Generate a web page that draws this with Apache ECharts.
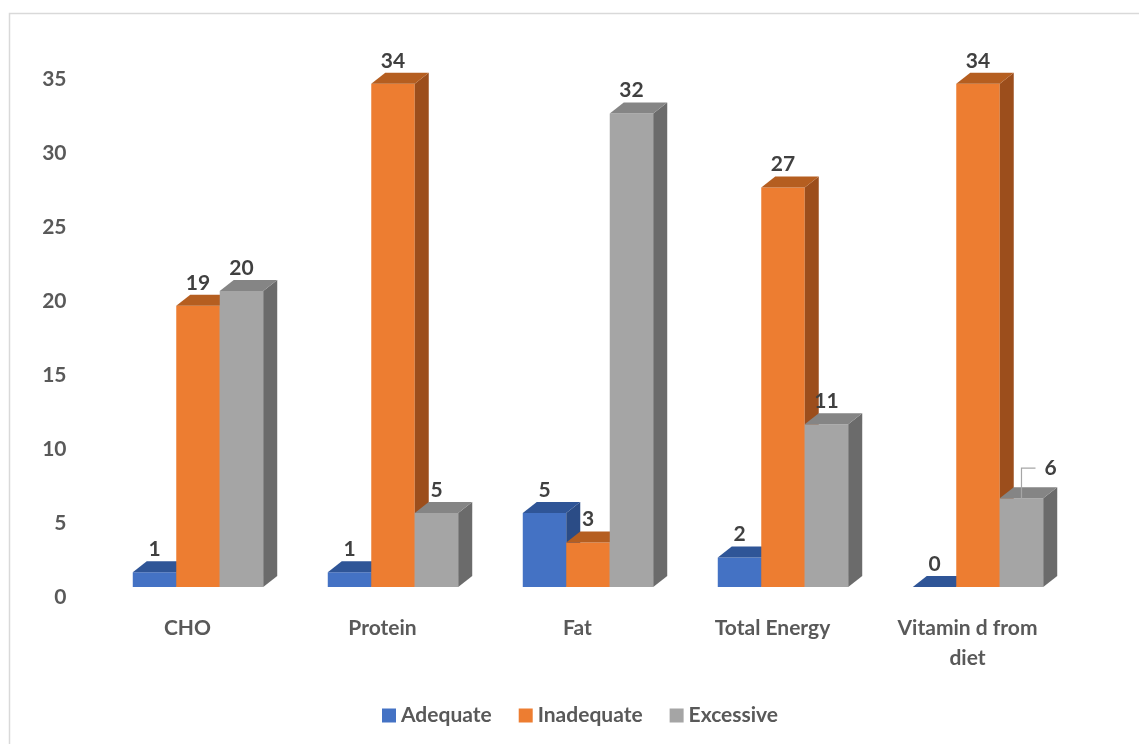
<!DOCTYPE html>
<html>
<head>
<meta charset="utf-8">
<script src="https://cdn.jsdelivr.net/npm/echarts@6/dist/echarts.min.js"></script>
<style>
  html, body { margin: 0; padding: 0; background: #ffffff; }
  #chart { width: 1139px; height: 744px; }
</style>
</head>
<body>
<div id="chart"></div>
<script>
// Nutrient intake status counts
const categories = ['CHO', 'Protein', 'Fat', 'Total Energy', 'Vitamin d from\ndiet'];
const adequate   = [1, 1, 5, 2, 0];
const inadequate = [19, 34, 3, 27, 34];
const excessive  = [20, 5, 32, 11, 6];
const yTicks = [0, 5, 10, 15, 20, 25, 30, 35];

const seriesNames = ['Adequate', 'Inadequate', 'Excessive'];
const seriesValues = [adequate, inadequate, excessive];
// front, top, side face colours of each 3-D column
const faces = [
  { front: '#4472C4', top: '#2F5597', side: '#2B4C86' },
  { front: '#ED7D31', top: '#B55E20', side: '#9C4E1C' },
  { front: '#A5A5A5', top: '#858585', side: '#6B6B6B' }
];

const FONT = 'bold 21px Lato, "Open Sans", sans-serif';
const TEXT = '#404040';
const DEPTH_X = 14, DEPTH_Y = -11;   // oblique depth of each column
const BAR_FRAC = 0.223;              // column width as a share of the category band

function makeRender(s) {
  return function (params, api) {
    const idx = api.value(0);
    const val = api.value(1);
    const base = api.coord([idx, 0]);
    const top = api.coord([idx, val]);
    const w = api.size([1, 0])[0] * BAR_FRAC;
    const x0 = base[0] - 1.5 * w + s * w;
    const yT = top[1], yB = base[1];
    const f = faces[s];
    const children = [];
    if (yB - yT > 0.5) {
      children.push({ type: 'rect', shape: { x: x0, y: yT, width: w, height: yB - yT },
        style: { fill: f.front } });
      children.push({ type: 'polygon', shape: { points: [
        [x0 + w, yT], [x0 + w, yB], [x0 + w + DEPTH_X, yB + DEPTH_Y], [x0 + w + DEPTH_X, yT + DEPTH_Y]] },
        style: { fill: f.side } });
    }
    children.push({ type: 'polygon', shape: { points: [
      [x0, yT], [x0 + w, yT], [x0 + w + DEPTH_X, yT + DEPTH_Y], [x0 + DEPTH_X, yT + DEPTH_Y]] },
      style: { fill: f.top } });

    let lx = x0 + w / 2, ly = yT + DEPTH_Y - 12;
    // the last Excessive label sits to the right with a leader line
    if (s === 2 && idx === categories.length - 1) {
      const cx = x0 + w / 2;
      lx = cx + 29; ly = yT - 30;
      children.push({ type: 'polyline', shape: { points: [[cx, yT], [cx, ly], [cx + 14, ly]] },
        style: { stroke: '#A6A6A6', lineWidth: 1.2, fill: null }, z2: 20 });
    }
    children.push({ type: 'text', z2: 30, style: {
      text: String(val), x: lx, y: ly, align: 'center', verticalAlign: 'middle',
      font: FONT, fill: TEXT } });
    return { type: 'group', children: children };
  };
}

const chart = echarts.init(document.getElementById('chart'), null, { renderer: 'canvas' });

chart.setOption({
  animation: false,
  backgroundColor: '#ffffff',
  graphic: [{
    type: 'rect', left: 7, top: 11, z: -10,
    shape: { width: 1200, height: 800 },
    style: { fill: 'none', stroke: '#D9D9D9', lineWidth: 1.5 }
  }],
  grid: { left: 100.5, right: 63.5, top: 69, bottom: 157 },
  legend: {
    left: 377, top: 700,
    icon: 'rect', itemWidth: 14, itemHeight: 14, itemGap: 27,
    textStyle: { fontFamily: 'Lato, "Open Sans", sans-serif', fontWeight: 'bold', fontSize: 21, color: '#595959' },
    data: seriesNames
  },
  xAxis: {
    type: 'category',
    data: categories,
    axisLine: { show: false },
    axisTick: { show: false },
    axisLabel: {
      interval: 0, margin: 26, lineHeight: 30,
      padding: [0, 21, 0, 0],
      fontFamily: 'Lato, "Open Sans", sans-serif', fontWeight: 'bold', fontSize: 21, color: '#595959'
    }
  },
  yAxis: {
    type: 'value',
    min: yTicks[0], max: yTicks[yTicks.length - 1], interval: 5,
    axisLine: { show: false },
    axisTick: { show: false },
    splitLine: { show: false },
    axisLabel: {
      margin: 34, verticalAlign: 'top', lineHeight: 21,
      fontFamily: 'Lato, "Open Sans", sans-serif', fontWeight: 'bold', fontSize: 21, color: '#595959'
    }
  },
  series: seriesNames.map((name, s) => ({
    name: name,
    type: 'custom',
    renderItem: makeRender(s),
    itemStyle: { color: faces[s].front },
    encode: { x: 0, y: 1 },
    clip: false,
    data: seriesValues[s].map((v, i) => [i, v])
  }))
});
</script>
</body>
</html>
